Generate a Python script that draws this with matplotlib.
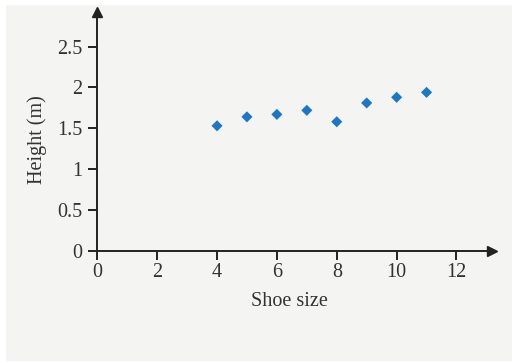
import matplotlib
matplotlib.use("Agg")
import matplotlib.pyplot as plt
from matplotlib.patches import Rectangle

shoe_size = [4, 5, 6, 7, 8, 9, 10, 11]
height_m = [1.53, 1.64, 1.67, 1.72, 1.58, 1.81, 1.88, 1.94]
x_ticks = [0, 2, 4, 6, 8, 10, 12]
y_ticks = [0, 0.5, 1, 1.5, 2, 2.5]
y_tick_labels = ["0", "0.5", "1", "1.5", "2", "2.5"]

plt.rcParams["font.family"] = ["Liberation Serif", "DejaVu Serif"]
text_color = "#333333"
axis_color = "#222222"
fs = 14.5

fig = plt.figure(figsize=(5.12, 3.63), dpi=100, facecolor="white")
# light grey panel behind the chart
fig.patches.append(Rectangle((6 / 512, 0.005), 1 - 6 / 512, 1 - 5 / 363 - 0.005,
                             transform=fig.transFigure, facecolor="#f4f4f2",
                             edgecolor="none", zorder=-10))

ax = fig.add_axes([0.190, 0.3094, 0.770, 0.6576])
ax.set_facecolor("none")
ax.set_xlim(0, 13.17)
ax.set_ylim(0, 2.925)

for side in ("top", "right"):
    ax.spines[side].set_visible(False)
for side in ("left", "bottom"):
    ax.spines[side].set_color(axis_color)
    ax.spines[side].set_linewidth(1.4)

# arrow heads at the ends of both axes
ax.plot(1, 0, marker=">", color=axis_color, markersize=7,
        transform=ax.transAxes, clip_on=False)
ax.plot(0, 1, marker="^", color=axis_color, markersize=7,
        transform=ax.transAxes, clip_on=False)

ax.set_xticks(x_ticks)
ax.set_xticklabels([str(t) for t in x_ticks])
ax.set_yticks(y_ticks)
ax.set_yticklabels(y_tick_labels)
ax.tick_params(axis="both", direction="out", length=6.5, width=1.4,
               color=axis_color, labelcolor=text_color, labelsize=fs)
ax.tick_params(axis="x", pad=2.5)
ax.tick_params(axis="y", pad=4)

ax.scatter(shoe_size, height_m, marker="D", s=32, color="#1a78c6",
           edgecolors="none", zorder=5)

ax.set_xlabel("Shoe size", fontsize=fs, color=text_color)
ax.set_ylabel("Height (m)", fontsize=fs, color=text_color)
ax.xaxis.set_label_coords(0.4886, -0.173)
ax.yaxis.set_label_coords(-0.1275, 0.464)

fig.savefig("out.png", dpi=100, facecolor="white")
